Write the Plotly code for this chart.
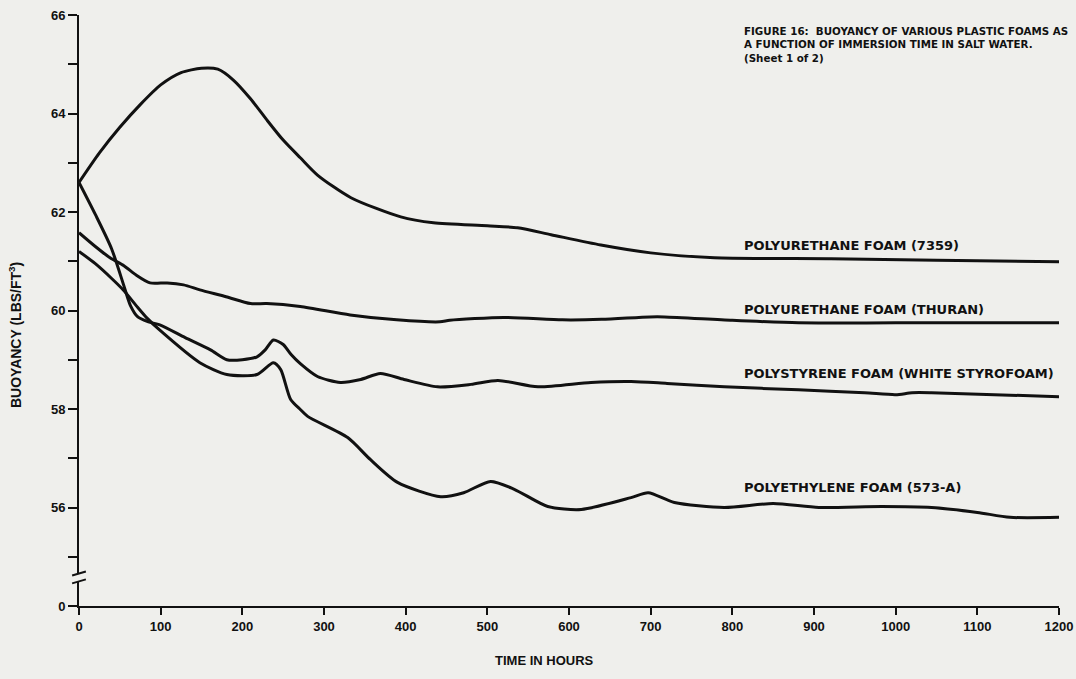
import plotly.graph_objects as go

# ---- data (hours, lbs/ft^3) ----
pu7359_x = [0, 25, 50, 75, 100, 125, 150, 170, 189, 210, 230, 250, 271, 292, 333, 394, 434, 500, 537, 578, 639, 700, 778, 921, 1050, 1200]
pu7359_y = [62.6, 63.2, 63.72, 64.18, 64.58, 64.83, 64.92, 64.9, 64.68, 64.3, 63.87, 63.46, 63.1, 62.75, 62.29, 61.9, 61.78, 61.72, 61.68, 61.54, 61.33, 61.17, 61.07, 61.05, 61.02, 60.99]

thuran_x = [0, 20, 38, 55, 70, 87, 108, 128, 148, 180, 210, 230, 271, 332, 389, 442, 454, 520, 592, 640, 699, 717, 800, 881, 1000, 1200]
thuran_y = [61.58, 61.3, 61.07, 60.91, 60.72, 60.56, 60.56, 60.52, 60.42, 60.28, 60.14, 60.14, 60.08, 59.91, 59.81, 59.77, 59.8, 59.86, 59.81, 59.82, 59.87, 59.87, 59.8, 59.75, 59.75, 59.75]

styro_x = [0, 20, 40, 55, 63, 72, 85, 99, 130, 161, 181, 200, 218, 228, 238, 250, 260, 271, 292, 320, 345, 369, 398, 439, 480, 513, 562, 627, 676, 720, 790, 881, 962, 1000, 1020, 1044, 1200]
styro_y = [62.6, 61.95, 61.25, 60.5, 60.1, 59.87, 59.77, 59.71, 59.45, 59.2, 59.0, 59.0, 59.06, 59.2, 59.4, 59.31, 59.1, 58.92, 58.66, 58.54, 58.6, 58.72, 58.6, 58.45, 58.5, 58.58, 58.45, 58.54, 58.56, 58.52, 58.45, 58.39, 58.33, 58.29, 58.33, 58.33, 58.25]

pe_x = [0, 20, 40, 54, 72, 83, 99, 148, 181, 218, 238, 247, 259, 271, 280, 329, 357, 390, 443, 471, 504, 533, 574, 615, 676, 697, 729, 790, 850, 906, 983, 1044, 1100, 1140, 1200]
pe_y = [61.2, 60.95, 60.65, 60.42, 60.06, 59.85, 59.6, 58.94, 58.7, 58.7, 58.94, 58.8, 58.2, 57.99, 57.85, 57.42, 56.97, 56.51, 56.22, 56.3, 56.53, 56.37, 56.02, 55.96, 56.2, 56.3, 56.1, 56.0, 56.08, 56.0, 56.02, 56.0, 55.9, 55.8, 55.8]

x_ticks = [0, 100, 200, 300, 400, 500, 600, 700, 800, 900, 1000, 1100, 1200]
y_tickvals = [54, 56, 58, 60, 62, 64, 66]
y_ticktext = ["0", "56", "58", "60", "62", "64", "66"]

labels = ["POLYURETHANE FOAM (7359)", "POLYURETHANE FOAM (THURAN)",
          "POLYSTYRENE FOAM (WHITE STYROFOAM)", "POLYETHYLENE FOAM (573-A)"]

LFONT = "DejaVu Sans"
TFONT = "Liberation Sans"
BG = "#efefec"
INK = "#111111"

fig = go.Figure()
for xs, ys, name in [(pu7359_x, pu7359_y, labels[0]), (thuran_x, thuran_y, labels[1]),
                     (styro_x, styro_y, labels[2]), (pe_x, pe_y, labels[3])]:
    fig.add_trace(go.Scatter(x=xs, y=ys, mode="lines", name=name,
                             line=dict(color=INK, width=3, shape="spline", smoothing=0.7),
                             showlegend=False))

fig.update_layout(
    width=1076, height=679,
    margin=dict(l=79, r=17, t=15, b=73, autoexpand=False),
    paper_bgcolor=BG, plot_bgcolor=BG,
    font=dict(family=TFONT, size=13, color=INK, weight="bold"),
    xaxis=dict(range=[0, 1200], tickvals=x_ticks, showgrid=False, zeroline=False,
               showline=True, linecolor=INK, linewidth=2, automargin=False,
               ticklabeloverflow="allow",
               ticks="outside", ticklen=7, tickwidth=2, tickcolor=INK,
               tickfont=dict(family=TFONT, size=13, weight="bold")),
    yaxis=dict(range=[54, 66], tickvals=y_tickvals, ticktext=y_ticktext,
               showgrid=False, zeroline=False, automargin=False,
               ticklabeloverflow="allow",
               showline=True, linecolor=INK, linewidth=2,
               ticks="outside", ticklen=9, tickwidth=1.5, tickcolor=INK,
               tickfont=dict(family=TFONT, size=13, weight="bold"),
               minor=dict(dtick=1, tick0=54, ticks="outside", ticklen=9, tickwidth=1.5, tickcolor=INK)),
)

# axis break symbol on the y axis
fig.add_shape(type="rect", xref="x domain", yref="y", x0=-0.006, x1=0.006, y0=54.5, y1=54.66,
              fillcolor=BG, line=dict(width=0), layer="above")
for yy in (54.5, 54.66):
    fig.add_shape(type="line", xref="x domain", yref="y", x0=-0.007, x1=0.007, y0=yy - 0.04, y1=yy + 0.04,
                  line=dict(color=INK, width=2), layer="above")

# curve labels
for txt, yv in zip(labels, [61.33, 60.03, 58.73, 56.4]):
    fig.add_annotation(text=txt, xref="paper", yref="y", x=0.677, y=yv,
                       xanchor="left", yanchor="middle", showarrow=False,
                       font=dict(family=LFONT, size=13, weight="bold"))

# figure caption
fig.add_annotation(text="FIGURE 16:  BUOYANCY OF VARIOUS PLASTIC FOAMS AS<br>A FUNCTION OF IMMERSION TIME IN SALT WATER.<br>(Sheet 1 of 2)",
                   xref="paper", yref="paper", x=0.677, y=0.986, xanchor="left", yanchor="top",
                   align="left", showarrow=False, font=dict(family=LFONT, size=10.3, weight="bold"))

# axis titles
fig.add_annotation(text="BUOYANCY (LBS/FT<sup>3</sup>)", textangle=-90, xref="paper", yref="paper",
                   x=-0.0653, y=0.4585, xanchor="center", yanchor="middle", showarrow=False,
                   font=dict(family=TFONT, size=14, weight="bold"))
fig.add_annotation(text="TIME IN HOURS", xref="paper", yref="paper", x=0.4755, y=-0.093,
                   xanchor="center", yanchor="middle", showarrow=False,
                   font=dict(family=TFONT, size=13, weight="bold"))

fig.write_html("out.html", config={"displayModeBar": False})

# remove the default page margin so the figure sits at the window's top-left corner
with open("out.html", "r", encoding="utf-8") as f:
    html = f.read()
html = html.replace("<head>", "<head><style>html,body{margin:0;padding:0;background:%s;}</style>" % BG, 1)
with open("out.html", "w", encoding="utf-8") as f:
    f.write(html)
